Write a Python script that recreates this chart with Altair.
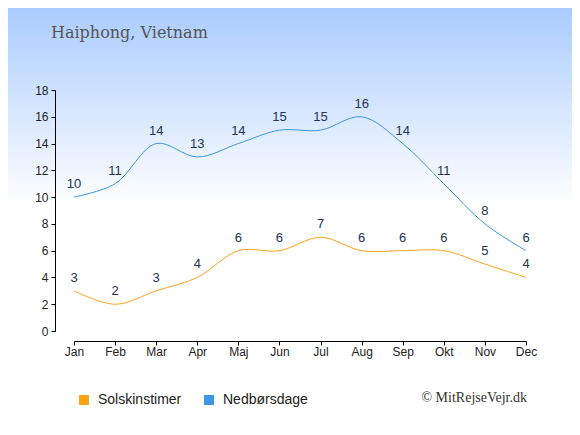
import altair as alt
import pandas as pd

months = ["Jan", "Feb", "Mar", "Apr", "Maj", "Jun", "Jul", "Aug", "Sep", "Okt", "Nov", "Dec"]
sun = [3, 2, 3, 4, 6, 6, 7, 6, 6, 6, 5, 4]
rain = [10, 11, 14, 13, 14, 15, 15, 16, 14, 11, 8, 6]
series = ["Solskinstimer", "Nedbørsdage"]
colors = ["#ffa31a", "#3d96e6"]

rows = []
for m, s, r in zip(months, sun, rain):
    rows.append({"month": m, "series": series[0], "value": s})
    rows.append({"month": m, "series": series[1], "value": r})
df = pd.DataFrame(rows)

W, H = 452, 241

x = alt.X("month:O", sort=months, scale=alt.Scale(type="point", padding=0),
          axis=alt.Axis(title=None, labelAngle=0, offset=10, tickSize=4, domainColor="#000",
                        tickColor="#000", labelColor="#222", labelFont="Liberation Sans",
                        labelFontSize=12, labelPadding=1, zindex=2))
y = alt.Y("value:Q", scale=alt.Scale(domain=[0, 18], nice=False),
          axis=alt.Axis(title=None, values=list(range(0, 19, 2)), offset=19, tickSize=4,
                        domainColor="#000", tickColor="#000", labelColor="#222",
                        labelFont="Liberation Sans", labelFontSize=12, grid=False,
                        labelPadding=3, zindex=2))

color_scale = alt.Scale(domain=series, range=colors)

bg = alt.Chart(pd.DataFrame({"a": [0]})).mark_rect(
    fill=alt.Gradient(gradient="linear", x1=0, x2=0, y1=0, y2=1,
                      stops=[alt.GradientStop(color="#aaccff", offset=0),
                             alt.GradientStop(color="#ffffff", offset=1)])
).encode(x=alt.value(-66), x2=alt.value(W + 46), y=alt.value(-82), y2=alt.value(115))

legend_layer = alt.Chart(df).mark_square(opacity=0, size=100).encode(
    x=x, y=y,
    color=alt.Color("series:N", sort=series, scale=color_scale,
                    legend=alt.Legend(title=None, orient="none", direction="horizontal",
                                      legendX=3, legendY=303, symbolType="square",
                                      symbolSize=100, symbolStrokeWidth=0, symbolOpacity=1,
                                      labelFont="Liberation Sans", labelFontSize=14,
                                      labelColor="#222", labelOffset=7))
)

lines = alt.Chart(df).mark_line(interpolate="catmull-rom", strokeWidth=1).encode(
    x=x, y=y,
    color=alt.Color("series:N", sort=series, scale=color_scale, legend=None)
)

labels = alt.Chart(df).mark_text(baseline="bottom", dy=-6, font="Liberation Sans",
                                 fontSize=13, color="#223355").encode(
    x=x, y=y, text="value:Q")

title = alt.Chart(pd.DataFrame({"t": ["Haiphong, Vietnam"]})).mark_text(
    align="left", baseline="alphabetic", font="DejaVu Serif", fontSize=16, color="#555"
).encode(x=alt.value(-23), y=alt.value(-52), text="t:N")

credit = alt.Chart(pd.DataFrame({"t": ["© MitRejseVejr.dk"]})).mark_text(
    align="right", baseline="alphabetic", font="Liberation Serif", fontSize=14, color="#333"
).encode(x=alt.value(453), y=alt.value(312), text="t:N")

chart = alt.layer(bg, legend_layer, lines, labels, title, credit).properties(
    width=W, height=H,
    background="white",
    autosize=alt.AutoSizeParams(type="none"),
    padding={"left": 66, "top": 82, "right": 46, "bottom": 96},
).configure_view(strokeWidth=0, stroke="transparent").configure_legend(columnPadding=20)

chart.save("out.html", embed_options={"renderer": "svg", "actions": False})
